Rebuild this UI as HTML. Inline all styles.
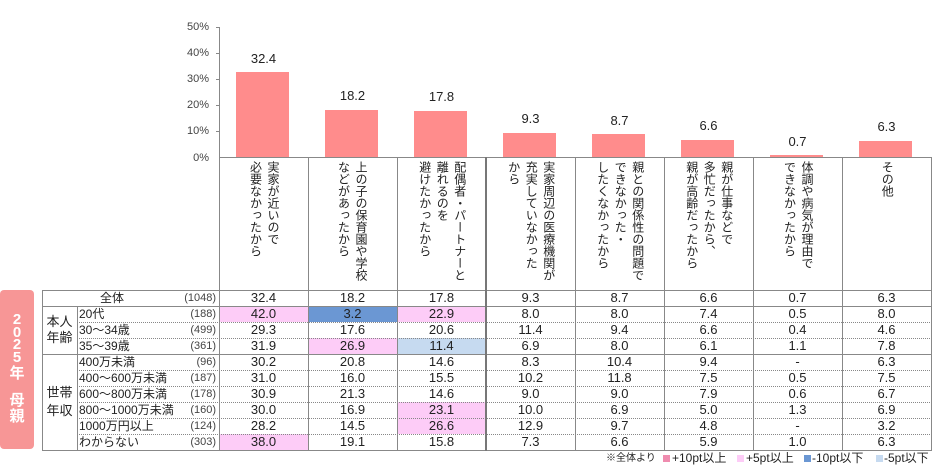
<!DOCTYPE html>
<html><head><meta charset="utf-8">
<style>
*{margin:0;padding:0;box-sizing:border-box}
body{width:932px;height:469px;background:#fff;position:relative;overflow:hidden;font-family:"Liberation Sans","Noto Sans CJK JP",sans-serif;color:#222}
.a{position:absolute}
.yl{position:absolute;left:165px;width:44px;text-align:right;font-size:11px;color:#444;height:14px;line-height:14px}
.bar{position:absolute;width:53px;background:#ff8c8c}
.bv{position:absolute;width:89px;text-align:center;font-size:13px;height:16px;line-height:16px;color:#222}
.hd{position:absolute;top:158px;height:132px;width:89px;display:flex;justify-content:center}
.hd div{writing-mode:vertical-rl;font-size:12px;line-height:17.5px;padding-top:3px;color:#222;white-space:nowrap}
.row{position:absolute;left:0;width:932px;height:16px}
.row div{position:absolute;top:0;height:16px;line-height:16px;font-size:13px;text-align:center;width:89px}
.row .lb{left:79px;width:auto;text-align:left;font-size:12px}
.row .n{left:150px;width:66px;text-align:right;font-size:11px;color:#444}
.c0{left:219px}.c1{left:308px}.c2{left:397px}.c3{left:486px}.c4{left:575px}.c5{left:664px}.c6{left:753px}.c7{left:842px}
.p{background:#fdccf7}.d{background:#6b97d3}.l{background:#c6daf0}
.h{position:absolute;height:1px;background:#888}
.dt{position:absolute;height:0;border-top:1px dotted #888}
.v{position:absolute;width:1px;background:#888}
.grp{position:absolute;left:42px;width:35px;text-align:center;font-size:13px}
.lg{position:absolute;top:451px;font-size:12px;height:15px;line-height:15px;color:#222;white-space:nowrap}
.sq{position:absolute;top:455px;width:7px;height:7px}
</style></head><body>

<!-- y-axis labels -->
<div class="yl" style="top:20px">50%</div>
<div class="yl" style="top:46px">40%</div>
<div class="yl" style="top:72px">30%</div>
<div class="yl" style="top:98px">20%</div>
<div class="yl" style="top:124px">10%</div>
<div class="yl" style="top:151px">0%</div>
<!-- ticks -->
<div class="h" style="left:216px;top:27px;width:4px"></div>
<div class="h" style="left:216px;top:53px;width:4px"></div>
<div class="h" style="left:216px;top:79px;width:4px"></div>
<div class="h" style="left:216px;top:105px;width:4px"></div>
<div class="h" style="left:216px;top:131px;width:4px"></div>

<!-- bars -->
<div class="bar" style="left:236px;top:72px;height:85px"></div>
<div class="bar" style="left:325px;top:110px;height:47px"></div>
<div class="bar" style="left:414px;top:111px;height:46px"></div>
<div class="bar" style="left:503px;top:133px;height:24px"></div>
<div class="bar" style="left:592px;top:134px;height:23px"></div>
<div class="bar" style="left:681px;top:140px;height:17px"></div>
<div class="bar" style="left:770px;top:155px;height:2px"></div>
<div class="bar" style="left:859px;top:141px;height:16px"></div>
<!-- bar values -->
<div class="bv" style="left:219px;top:51px">32.4</div>
<div class="bv" style="left:308px;top:88px">18.2</div>
<div class="bv" style="left:397px;top:89px">17.8</div>
<div class="bv" style="left:486px;top:111px">9.3</div>
<div class="bv" style="left:575px;top:113px">8.7</div>
<div class="bv" style="left:664px;top:118px">6.6</div>
<div class="bv" style="left:753px;top:134px">0.7</div>
<div class="bv" style="left:842px;top:119px">6.3</div>

<!-- header vertical labels -->
<div class="hd" style="left:219px"><div>実家が近いので<br>必要なかったから</div></div>
<div class="hd" style="left:307px"><div>上の子の保育園や学校<br>などがあったから</div></div>
<div class="hd" style="left:397px"><div>配偶者・パートナーと<br>離れるのを<br>避けたかったから</div></div>
<div class="hd" style="left:486px"><div>実家周辺の医療機関が<br>充実していなかった<br>から</div></div>
<div class="hd" style="left:575px"><div>親との関係性の問題で<br>できなかった・<br>したくなかったから</div></div>
<div class="hd" style="left:664px"><div>親が仕事などで<br>多忙だったから、<br>親が高齢だったから</div></div>
<div class="hd" style="left:753px"><div>体調や病気が理由で<br>できなかったから</div></div>
<div class="hd" style="left:842px"><div>その他</div></div>

<!-- left red label -->
<div class="a" style="left:0;top:290px;width:34px;height:159px;background:#f79696;border-radius:4px"></div>
<div class="a" style="left:0;top:314px;width:34px;text-align:center;color:#fff;font-weight:bold;font-size:15px;line-height:12.5px">2<br>0<br>2<br>5</div>
<div class="a" style="left:0;top:365px;width:34px;text-align:center;color:#fff;font-weight:bold;font-size:15px;line-height:17px">年</div>
<div class="a" style="left:0;top:393px;width:34px;text-align:center;color:#fff;font-weight:bold;font-size:15px;line-height:16px">母<br>親</div>

<!-- table rows -->
<div class="row" style="top:290px"><div class="lb" style="left:100px">全体</div><div class="n">(1048)</div>
<div class="c0">32.4</div><div class="c1">18.2</div><div class="c2">17.8</div><div class="c3">9.3</div><div class="c4">8.7</div><div class="c5">6.6</div><div class="c6">0.7</div><div class="c7">6.3</div></div>
<div class="row" style="top:306px"><div class="lb">20代</div><div class="n">(188)</div>
<div class="c0 p">42.0</div><div class="c1 d">3.2</div><div class="c2 p">22.9</div><div class="c3">8.0</div><div class="c4">8.0</div><div class="c5">7.4</div><div class="c6">0.5</div><div class="c7">8.0</div></div>
<div class="row" style="top:322px"><div class="lb">30～34歳</div><div class="n">(499)</div>
<div class="c0">29.3</div><div class="c1">17.6</div><div class="c2">20.6</div><div class="c3">11.4</div><div class="c4">9.4</div><div class="c5">6.6</div><div class="c6">0.4</div><div class="c7">4.6</div></div>
<div class="row" style="top:338px"><div class="lb">35～39歳</div><div class="n">(361)</div>
<div class="c0">31.9</div><div class="c1 p">26.9</div><div class="c2 l">11.4</div><div class="c3">6.9</div><div class="c4">8.0</div><div class="c5">6.1</div><div class="c6">1.1</div><div class="c7">7.8</div></div>
<div class="row" style="top:354px"><div class="lb">400万未満</div><div class="n">(96)</div>
<div class="c0">30.2</div><div class="c1">20.8</div><div class="c2">14.6</div><div class="c3">8.3</div><div class="c4">10.4</div><div class="c5">9.4</div><div class="c6">-</div><div class="c7">6.3</div></div>
<div class="row" style="top:370px"><div class="lb">400～600万未満</div><div class="n">(187)</div>
<div class="c0">31.0</div><div class="c1">16.0</div><div class="c2">15.5</div><div class="c3">10.2</div><div class="c4">11.8</div><div class="c5">7.5</div><div class="c6">0.5</div><div class="c7">7.5</div></div>
<div class="row" style="top:386px"><div class="lb">600～800万未満</div><div class="n">(178)</div>
<div class="c0">30.9</div><div class="c1">21.3</div><div class="c2">14.6</div><div class="c3">9.0</div><div class="c4">9.0</div><div class="c5">7.9</div><div class="c6">0.6</div><div class="c7">6.7</div></div>
<div class="row" style="top:402px"><div class="lb">800～1000万未満</div><div class="n">(160)</div>
<div class="c0">30.0</div><div class="c1">16.9</div><div class="c2 p">23.1</div><div class="c3">10.0</div><div class="c4">6.9</div><div class="c5">5.0</div><div class="c6">1.3</div><div class="c7">6.9</div></div>
<div class="row" style="top:418px"><div class="lb">1000万円以上</div><div class="n">(124)</div>
<div class="c0">28.2</div><div class="c1">14.5</div><div class="c2 p">26.6</div><div class="c3">12.9</div><div class="c4">9.7</div><div class="c5">4.8</div><div class="c6">-</div><div class="c7">3.2</div></div>
<div class="row" style="top:434px"><div class="lb">わからない</div><div class="n">(303)</div>
<div class="c0 p">38.0</div><div class="c1">19.1</div><div class="c2">15.8</div><div class="c3">7.3</div><div class="c4">6.6</div><div class="c5">5.9</div><div class="c6">1.0</div><div class="c7">6.3</div></div>

<!-- group labels -->
<div class="grp" style="top:314px;line-height:16px">本人<br>年齢</div>
<div class="grp" style="top:384px;line-height:18px">世帯<br>年収</div>

<!-- lines -->
<div class="h" style="left:219px;top:157px;width:713px"></div>
<div class="h" style="left:42px;top:290px;width:890px"></div>
<div class="h" style="left:42px;top:306px;width:890px"></div>
<div class="h" style="left:42px;top:354px;width:890px"></div>
<div class="h" style="left:42px;top:450px;width:890px"></div>
<div class="dt" style="left:77px;top:322px;width:855px"></div>
<div class="dt" style="left:77px;top:338px;width:855px"></div>
<div class="dt" style="left:77px;top:370px;width:855px"></div>
<div class="dt" style="left:77px;top:386px;width:855px"></div>
<div class="dt" style="left:77px;top:402px;width:855px"></div>
<div class="dt" style="left:77px;top:418px;width:855px"></div>
<div class="dt" style="left:77px;top:434px;width:855px"></div>

<div class="v" style="left:42px;top:290px;height:161px"></div>
<div class="v" style="left:77px;top:306px;height:145px"></div>
<div class="v" style="left:219px;top:27px;height:424px"></div>
<div class="v" style="left:308px;top:157px;height:294px"></div>
<div class="v" style="left:397px;top:157px;height:294px"></div>
<div class="v" style="left:485px;top:157px;height:294px;width:2px;background:#777"></div>
<div class="v" style="left:575px;top:157px;height:294px"></div>
<div class="v" style="left:664px;top:157px;height:294px"></div>
<div class="v" style="left:753px;top:157px;height:294px"></div>
<div class="v" style="left:842px;top:157px;height:294px"></div>
<div class="v" style="left:931px;top:157px;height:294px"></div>

<!-- legend -->
<div class="lg" style="left:606px;font-size:10px">※全体より</div>
<div class="sq" style="left:663px;background:#ef8caf"></div>
<div class="lg" style="left:672px">+10pt以上</div>
<div class="sq" style="left:737px;background:#fdccf7"></div>
<div class="lg" style="left:746px">+5pt以上</div>
<div class="sq" style="left:804px;background:#6b97d3"></div>
<div class="lg" style="left:812px">-10pt以下</div>
<div class="sq" style="left:876px;background:#c6daf0"></div>
<div class="lg" style="left:884px">-5pt以下</div>

</body></html>
